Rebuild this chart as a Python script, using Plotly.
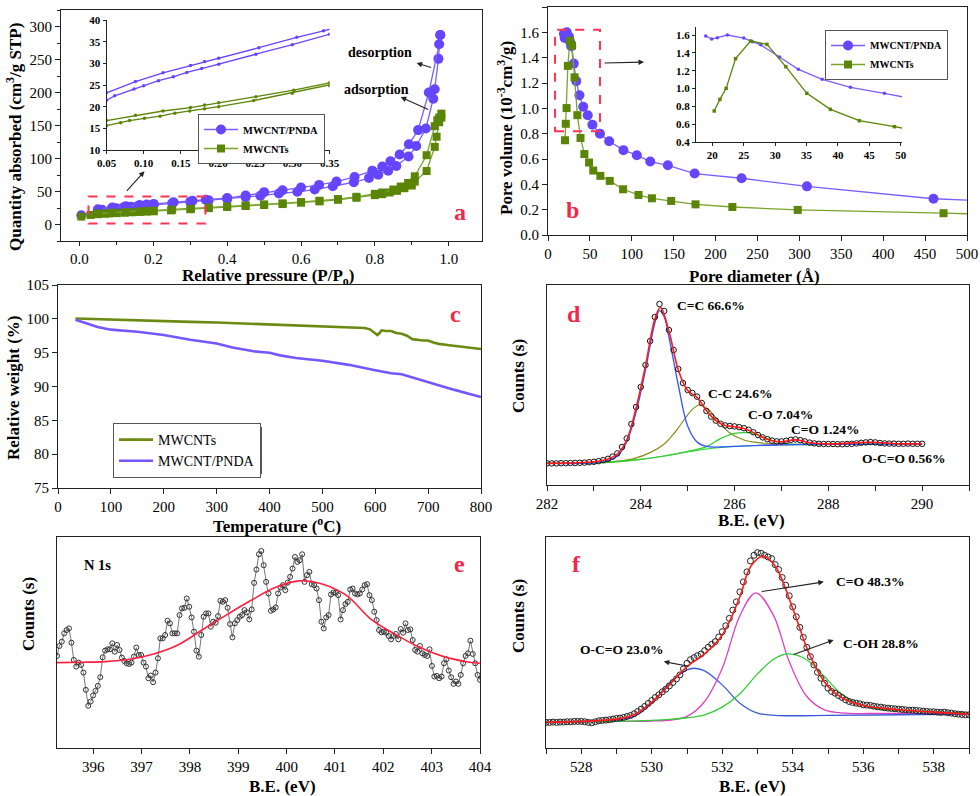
import numpy as np
import plotly.graph_objects as go

W, H = 980, 796
SERIF = "Liberation Serif"
PURPLE = "#6446ff"
PURPLE_L = "#7a5fff"
GREEN = "#5a8507"
GREEN_L = "#7aa52a"
RED = "#f2284a"
BLK = "#222222"

# ---------------- (a) N2 isotherms ----------------
pnda_ads_x = [0.005, 0.05, 0.061, 0.087, 0.1, 0.12, 0.14, 0.158, 0.178, 0.201, 0.251, 0.3, 0.35, 0.4, 0.45,
              0.49, 0.54, 0.59, 0.637, 0.686, 0.743, 0.784, 0.809, 0.836, 0.858, 0.891, 0.912, 0.938, 0.958,
              0.962, 0.972, 0.977]
pnda_ads_y = [14, 21.5, 22.5, 24.1, 24.8, 26, 26.9, 27.9, 28.8, 29.8, 32.1, 34.3, 36.7, 38.8, 41.5,
              43.5, 47, 49.5, 53, 58, 64, 70.4, 75.5, 81.6, 88.7, 103, 119, 145.5, 190.6,
              205, 251, 287]
pnda_des_x = [0.977, 0.974, 0.946, 0.917, 0.892, 0.867, 0.842, 0.82, 0.793, 0.745, 0.696, 0.649, 0.6, 0.55,
              0.5, 0.45, 0.4, 0.342, 0.306, 0.255, 0.201, 0.182, 0.163, 0.126, 0.089, 0.05]
pnda_des_y = [287, 273, 200, 143, 121.6, 106, 95.8, 88, 81.6, 72, 65, 60, 56, 52,
              49, 44, 40, 37.5, 36, 33.6, 31.2, 30.4, 29.5, 27.8, 25.8, 23.2]
cnt_ads_x = [0.005, 0.03, 0.05, 0.069, 0.081, 0.101, 0.122, 0.142, 0.162, 0.182, 0.201, 0.248, 0.3, 0.35,
             0.4, 0.45, 0.5, 0.55, 0.6, 0.65, 0.7, 0.75, 0.8, 0.82, 0.84, 0.86, 0.88, 0.9, 0.908, 0.94,
             0.962, 0.967, 0.974, 0.98]
cnt_ads_y = [12, 14.5, 15.6, 16.3, 16.8, 17.3, 17.8, 18.5, 19.0, 19.5, 20.0, 21.4, 23.1, 24.8,
             26.5, 28, 29.5, 31, 33, 35, 37.5, 40.5, 44.5, 46, 48.5, 51, 55, 59, 65, 81,
             117.6, 133, 155, 162]
cnt_des_x = [0.98, 0.974, 0.969, 0.962, 0.94, 0.908, 0.89, 0.87, 0.85, 0.82, 0.8, 0.75, 0.7, 0.65, 0.6,
             0.55, 0.5, 0.45, 0.4, 0.35, 0.302, 0.251, 0.201, 0.182, 0.163, 0.126, 0.089, 0.05]
cnt_des_y = [168, 162, 158, 149, 105, 73, 63, 57.5, 53, 48.5, 46.5, 42, 38.5, 36, 34,
             32, 30.5, 29, 27.5, 25.5, 23.8, 22.3, 20.9, 20.4, 19.8, 19.0, 18.0, 16.8]

# ---------------- (b) pore size distribution ----------------
pnda_d = [18.95, 19.9, 20.8, 22.4, 25.0, 26.4, 27.7, 30.7, 33.7, 37.5, 42.0, 47.4, 53, 62, 73, 90, 106,
          122, 143, 175, 231, 309, 460, 520]
pnda_v = [1.589, 1.555, 1.57, 1.60, 1.566, 1.525, 1.49, 1.353, 1.215, 1.103, 1.013, 0.946, 0.87, 0.80,
          0.74, 0.67, 0.63, 0.58, 0.55, 0.485, 0.448, 0.384, 0.286, 0.27]
cnt_d = [20.3, 21.2, 22.2, 23.7, 26.1, 28.7, 31.7, 35.05, 38.8, 43.4, 49.0, 54, 62.5, 73.7, 89.6, 108,
         124, 147, 176, 220, 298, 472, 520]
cnt_v = [0.748, 0.878, 1.002, 1.335, 1.533, 1.495, 1.245, 0.946, 0.766, 0.639, 0.572, 0.509, 0.467,
         0.427, 0.361, 0.316, 0.29, 0.269, 0.242, 0.221, 0.198, 0.172, 0.165]

# ---------------- (c) TGA ----------------
tga_cnt_t = [33, 60, 100, 150, 200, 250, 300, 350, 400, 450, 500, 530, 550, 580, 590, 598, 604, 608, 612,
             620, 630, 640, 650, 660, 670, 690, 700, 710, 720, 740, 760, 780, 800]
tga_cnt_w = [100.05, 100.0, 99.85, 99.75, 99.65, 99.55, 99.45, 99.3, 99.2, 99.05, 98.9, 98.75, 98.75,
             98.65, 98.45, 98.0, 97.6, 97.9, 98.3, 98.2, 98.2, 97.9, 97.8, 97.5, 97.0, 96.8, 96.8, 96.5,
             96.3, 96.1, 95.95, 95.8, 95.55]
tga_pnda_t = [33, 50, 75, 100, 150, 200, 230, 250, 300, 330, 370, 400, 420, 450, 500, 550, 600, 630, 650,
              680, 700, 750, 800]
tga_pnda_w = [99.85, 99.4, 98.8, 98.4, 98.1, 97.6, 97.15, 96.9, 96.35, 95.75, 95.2, 95.0, 94.6, 94.2,
              93.8, 93.2, 92.4, 91.95, 91.8, 91.1, 90.6, 89.5, 88.45]

# ---------------- (d) C 1s ----------------
c1s_start, c1s_step = 282.0, 0.1
c1s_counts = [10.8, 10.8, 10.8, 10.9, 10.9, 11.0, 11.0, 11.1, 11.2, 11.4,
              11.6, 11.9, 12.4, 13.1, 14.2, 15.8, 19.0, 23.3, 30.5, 39.0,
              49.0, 60.0, 72.0, 84.0, 90.5, 87.0, 77.5, 67.5, 58.0, 51.0,
              47.5, 46.0, 44.2, 41.0, 37.0, 34.2, 32.2, 30.6, 29.8, 29.5,
              29.3, 28.9, 28.4, 27.6, 26.4, 25.0, 23.8, 22.9, 22.2, 21.8,
              21.8, 22.1, 22.6, 22.8, 22.4, 21.8, 21.2, 20.8, 20.6, 20.5,
              20.5, 20.5, 20.4, 20.4, 20.5, 20.6, 20.8, 21.1, 21.3, 21.5,
              21.3, 21.0, 20.8, 20.7, 20.7, 20.6, 20.6, 20.7, 20.6, 20.6, 20.6]
c1s_fit_x = [282, 283, 283.3, 283.5, 283.7, 283.9, 284.1, 284.3, 284.42, 284.6, 284.8, 285.0, 285.2, 285.4,
             285.6, 285.8, 286.0, 286.2, 286.4, 286.6, 286.8, 287.0, 287.3, 287.6, 288, 288.9, 289.5, 290]
c1s_fit_y = [10.8, 11.6, 13.0, 15.5, 22.5, 38.5, 59.5, 83, 88.8, 77, 57.5, 47.2, 43.8, 37.2,
             32.2, 29.8, 29.1, 28.2, 26.3, 23.7, 22.1, 21.6, 22.6, 21.1, 20.5, 21.4, 20.6, 20.6]
c1s_bg_x = [282, 283, 283.5, 284, 284.5, 285, 285.5, 286, 286.5, 287, 288, 290]
c1s_bg_y = [10.8, 11.0, 11.6, 12.8, 14.5, 16.5, 18.3, 19.3, 19.8, 20.1, 20.3, 20.5]
c1s_cc2_x = [282, 283, 283.3, 283.5, 283.7, 283.9, 284.1, 284.3, 284.4, 284.5, 284.6, 284.8, 285.0, 285.2,
             285.4, 285.7, 286, 287, 288, 290]
c1s_cc2_y = [10.8, 11.1, 12.2, 14.5, 21.5, 36.5, 57.5, 81, 87.2, 84, 74, 50, 29.5, 21.5,
             19.3, 19.0, 19.3, 20.1, 20.3, 20.5]
c1s_cc_x = [282, 283, 283.5, 283.85, 284.2, 284.5, 284.75, 284.95, 285.1, 285.25, 285.45, 285.65, 285.9,
            286.2, 286.5, 286.9, 288, 290]
c1s_cc_y = [10.8, 11.1, 11.9, 13.2, 16.2, 20.5, 27, 33.5, 37.8, 40, 37.5, 32.2, 26, 22.5, 21.2, 20.6,
            20.3, 20.5]
c1s_co_x = [282, 283, 284, 284.5, 285, 285.4, 285.7, 286.0, 286.2, 286.45, 286.7, 287.0, 287.5, 288, 290]
c1s_co_y = [10.8, 11.0, 12.8, 14.5, 16.8, 19.2, 23.2, 25.8, 26.2, 25.6, 23.2, 21.0, 20.2, 20.3, 20.5]
c1s_c_o_x = [286.6, 286.9, 287.1, 287.3, 287.5, 287.7, 288.0]
c1s_c_o_y = [19.9, 20.2, 21.6, 22.6, 21.8, 20.5, 20.3]
c1s_occ_x = [288.3, 288.6, 288.9, 289.2, 289.5, 290]
c1s_occ_y = [20.4, 20.8, 21.5, 20.9, 20.5, 20.5]

# ---------------- (e) N 1s ----------------
n1s_start, n1s_end = 395.25, 404.0
n1s_counts = [277, 307, 320, 345, 355, 360, 317, 265, 245, 257, 250, 227, 175, 127, 140, 158, 172, 187, 213, 273,
              293, 297, 297, 315, 290, 310, 295, 272, 262, 255, 253, 257, 275, 302, 280, 280, 257, 245, 210, 218,
              198, 227, 270, 330, 330, 340, 383, 375, 345, 345, 345, 400, 420, 422, 450, 425, 393, 350, 293, 275,
              340, 395, 405, 405, 365, 380, 377, 397, 443, 440, 445, 422, 373, 333, 375, 385, 395, 400, 415, 408,
              387, 417, 497, 537, 583, 593, 550, 500, 465, 413, 417, 423, 465, 483, 490, 475, 498, 515, 540, 575,
              560, 565, 583, 500, 520, 530, 493, 490, 480, 445, 380, 360, 393, 400, 462, 468, 467, 460, 387, 415,
              433, 440, 477, 480, 465, 462, 465, 477, 490, 493, 460, 445, 410, 385, 355, 348, 350, 347, 337, 327,
              337, 343, 327, 358, 347, 375, 355, 357, 325, 295, 290, 307, 285, 280, 277, 297, 247, 215, 217, 210,
              215, 255, 267, 233, 213, 193, 200, 193, 220, 255, 277, 285, 323, 283, 255, 220, 205]
n1s_fit_x = [395.25, 395.75, 396.25, 396.75, 397.25, 397.75, 398.25, 398.75, 399.25, 399.75, 400.25, 400.75,
             401.25, 401.75, 402.25, 402.75, 403.25, 403.75, 404.0]
n1s_fit_y = [257, 258, 260, 267, 283, 310, 355, 400, 443, 482, 503, 493, 458, 387, 342, 303, 275, 259, 255]

# ---------------- (f) O 1s ----------------
o1s_start, o1s_step = 527.0, 0.1
o1s_counts = [77, 77, 78, 77, 78, 78, 79, 79, 80, 80,
              80, 79, 77, 76, 79, 82, 83, 84, 85, 87,
              89, 90, 92, 95, 98, 103, 110, 117, 125, 134,
              143, 152, 160, 169, 177, 187, 197, 208, 220, 238,
              255, 266, 272, 278, 283, 293, 303, 312, 320, 334,
              350, 368, 390, 415, 440, 470, 500, 530, 563, 580,
              588, 586, 580, 575, 570, 552, 537, 513, 490, 458,
              425, 395, 363, 333, 303, 275, 250, 228, 210, 195,
              180, 170, 165, 158, 152, 145, 140, 137, 135, 133,
              130, 129, 128, 126, 124, 123, 121, 120, 119, 118,
              117, 116, 115, 114, 114, 113, 112, 111, 110, 109,
              109, 108, 107, 108, 106, 105, 103, 102, 101, 100, 100]
o1s_fit_x = [527, 528, 529, 529.5, 530, 530.5, 531, 531.5, 532, 532.5, 532.8, 533.15, 533.5, 534, 534.5, 535,
             535.5, 536, 537, 538, 539]
o1s_fit_y = [77, 80, 87, 100, 138, 190, 245, 283, 340, 455, 545, 577, 548, 420, 275, 185, 145, 128, 115, 108, 102]
o1s_occ_x = [527, 528, 529, 529.5, 530, 530.5, 531, 531.2, 531.5, 532, 532.5, 533, 533.5, 534, 535, 537, 539]
o1s_occ_y = [77, 80, 84, 95, 135, 195, 235, 240, 232, 190, 135, 105, 98, 97, 98, 100, 102]
o1s_co_x = [527, 529, 530, 530.6, 531, 531.5, 532, 532.5, 532.95, 533.45, 533.9, 534.4, 534.9, 535.5, 536.5, 539]
o1s_co_y = [77, 80, 81, 85, 95, 140, 240, 398, 467, 400, 260, 155, 115, 105, 104, 104]
o1s_coh_x = [527, 528, 529, 530, 530.5, 531, 531.5, 532, 532.5, 533, 533.5, 533.9, 534.4, 534.9, 535.35,
             535.8, 536.3, 536.8, 537.7, 539]
o1s_coh_y = [77, 79, 80, 83, 86, 91, 100, 123, 163, 223, 270, 283, 265, 215, 165, 135, 120, 114, 110, 105]

c1s_x = [round(c1s_start + i * c1s_step, 2) for i in range(len(c1s_counts))]
o1s_x = [round(o1s_start + i * o1s_step, 2) for i in range(len(o1s_counts))]
n1s_x = list(np.linspace(n1s_start, n1s_end, len(n1s_counts)))


def dx(l, r):
    return [l / W, r / W]


def dy(t, b):
    return [1 - b / H, 1 - t / H]


fig = go.Figure()


def sc(x, y, ax, **kw):
    kw.setdefault("showlegend", False)
    fig.add_trace(go.Scatter(x=x, y=y, xaxis="x" + ax, yaxis="y" + ax, **kw))


# (a) main
sc(pnda_ads_x, pnda_ads_y, "", mode="lines+markers", name="MWCNT/PNDA", showlegend=True, legend="legend",
   line=dict(color=PURPLE_L, width=1.3), marker=dict(symbol="circle", size=10, color=PURPLE))
sc(pnda_des_x, pnda_des_y, "", mode="lines+markers", line=dict(color=PURPLE_L, width=1.3),
   marker=dict(symbol="circle", size=10, color=PURPLE))
sc(cnt_ads_x, cnt_ads_y, "", mode="lines+markers", name="MWCNTs", showlegend=True, legend="legend",
   line=dict(color=GREEN_L, width=1.3), marker=dict(symbol="square", size=8, color=GREEN))
sc(cnt_des_x, cnt_des_y, "", mode="lines+markers", line=dict(color=GREEN_L, width=1.3),
   marker=dict(symbol="square", size=8, color=GREEN))
# (a) inset
for xs, ys, c in [(pnda_ads_x, pnda_ads_y, PURPLE), (pnda_des_x, pnda_des_y, PURPLE),
                  (cnt_ads_x, cnt_ads_y, GREEN), (cnt_des_x, cnt_des_y, GREEN)]:
    sc(xs, ys, "2", mode="lines+markers", line=dict(color=c, width=1.3), marker=dict(size=3.5, color=c))

# (b)
sc(pnda_d, pnda_v, "3", mode="lines+markers", name="MWCNT/PNDA", showlegend=True, legend="legend2",
   line=dict(color=PURPLE_L, width=1.3), marker=dict(symbol="circle", size=10, color=PURPLE))
sc(cnt_d, cnt_v, "3", mode="lines+markers", name="MWCNTs", showlegend=True, legend="legend2",
   line=dict(color=GREEN_L, width=1.3), marker=dict(symbol="square", size=8, color=GREEN))
sc(pnda_d, pnda_v, "4", mode="lines+markers", line=dict(color=PURPLE_L, width=1.3),
   marker=dict(size=3.5, color=PURPLE))
sc(cnt_d, cnt_v, "4", mode="lines+markers", line=dict(color=GREEN, width=1.3),
   marker=dict(symbol="square", size=3.5, color=GREEN))

# (c)
sc(tga_cnt_t, tga_cnt_w, "5", mode="lines", name="MWCNTs", showlegend=True, legend="legend3",
   line=dict(color="#6b8a12", width=2.6))
sc(tga_pnda_t, tga_pnda_w, "5", mode="lines", name="MWCNT/PNDA", showlegend=True, legend="legend3",
   line=dict(color="#7357ff", width=2.6))

# (d)
sc(c1s_bg_x, c1s_bg_y, "6", mode="lines", line=dict(color="#44dd44", width=1.2, shape="spline"))
sc(c1s_cc_x, c1s_cc_y, "6", mode="lines", line=dict(color="#8a8a1a", width=1.2, shape="spline"))
sc(c1s_co_x, c1s_co_y, "6", mode="lines", line=dict(color="#33cc33", width=1.2, shape="spline"))
sc(c1s_c_o_x, c1s_c_o_y, "6", mode="lines", line=dict(color="#b03cc8", width=1.2, shape="spline"))
sc(c1s_occ_x, c1s_occ_y, "6", mode="lines", line=dict(color="#ff77bb", width=1.2, shape="spline"))
sc(c1s_cc2_x, c1s_cc2_y, "6", mode="lines", line=dict(color="#2f55ff", width=1.3, shape="spline"))
sc(c1s_x, c1s_counts, "6", mode="markers",
   marker=dict(symbol="circle-open", size=5.5, color="#111", line=dict(width=1)))
sc(c1s_fit_x, c1s_fit_y, "6", mode="lines", line=dict(color="#ff1a1a", width=1.6, shape="spline"))

# (e)
sc(n1s_x, n1s_counts, "7", mode="lines+markers", line=dict(color="#777", width=1),
   marker=dict(symbol="circle-open", size=5, color="#333", line=dict(width=1)))
sc(n1s_fit_x, n1s_fit_y, "7", mode="lines", line=dict(color="#ff2040", width=1.6, shape="spline"))

# (f)
sc(o1s_occ_x, o1s_occ_y, "8", mode="lines", line=dict(color="#3a5bd9", width=1.3, shape="spline"))
sc(o1s_co_x, o1s_co_y, "8", mode="lines", line=dict(color="#e040c0", width=1.3, shape="spline"))
sc(o1s_coh_x, o1s_coh_y, "8", mode="lines", line=dict(color="#33cc33", width=1.3, shape="spline"))
sc(o1s_x, o1s_counts, "8", mode="markers",
   marker=dict(symbol="circle-open", size=6, color="#222", line=dict(width=1)))
sc(o1s_fit_x, o1s_fit_y, "8", mode="lines", line=dict(color="#ff1a1a", width=1.6, shape="spline"))

# ---------------- axes ----------------
TF = dict(family=SERIF, size=15, color="black")
TFB = dict(family=SERIF, size=11, color="black", weight="bold")


def ax(domain, rng, anchor, mirror=True, font=TF, ticklen=5, **kw):
    d = dict(domain=domain, range=rng, anchor=anchor, showline=True, linecolor=BLK, linewidth=1,
             mirror=mirror, ticks="outside", tickcolor=BLK, ticklen=ticklen, tickwidth=1,
             showgrid=False, zeroline=False, tickfont=font, automargin=False)
    d.update(kw)
    return d


noy = dict(showticklabels=False, ticks="")
layout = dict(
    xaxis=ax(dx(61, 482), [-0.05, 1.09], "y", dtick=0.2, tick0=0, tickformat=".1f", ticklen=4,
             minor=dict(dtick=0.1, ticks="outside", ticklen=3, tickcolor=BLK)),
    yaxis=ax(dy(10, 241), [-25, 325], "x", dtick=50, tick0=0,
             minor=dict(dtick=25, ticks="outside", ticklen=3, tickcolor=BLK)),
    xaxis2=ax(dx(106.5, 329.5), [0.05, 0.35], "y2", mirror=False, font=TFB, ticklen=3,
              dtick=0.05, tick0=0.05, tickformat=".2f"),
    yaxis2=ax(dy(20, 150), [10, 40], "x2", mirror=False, font=TFB, ticklen=3, dtick=5, tick0=10),
    xaxis3=ax(dx(548, 967), [0, 500], "y3", dtick=50),
    yaxis3=ax(dy(7, 235), [0, 1.8], "x3", dtick=0.2, tick0=0, tickformat=".1f"),
    xaxis4=ax(dx(696, 902), [17.4, 50.2], "y4", mirror=False, font=TFB, ticklen=3, dtick=5, tick0=20),
    yaxis4=ax(dy(27, 142), [0.4, 1.69], "x4", mirror=False, font=TFB, ticklen=3, dtick=0.2, tick0=0.4,
              tickformat=".1f"),
    xaxis5=ax(dx(58, 481), [0, 800], "y5", dtick=100),
    yaxis5=ax(dy(285, 488), [75, 105], "x5", dtick=5),
    xaxis6=ax(dx(547, 969), [282, 291], "y6", dtick=2, tick0=282,
              minor=dict(dtick=1, ticks="outside", ticklen=5, tickcolor=BLK)),
    yaxis6=ax(dy(285, 485), [0, 100], "x6", **noy),
    xaxis7=ax(dx(57, 480), [395.25, 404], "y7", dtick=1, tick0=396),
    yaxis7=ax(dy(537, 748), [0, 635], "x7", **noy),
    xaxis8=ax(dx(546, 969), [527, 539], "y8", dtick=2, tick0=528,
              minor=dict(dtick=1, ticks="outside", ticklen=5, tickcolor=BLK)),
    yaxis8=ax(dy(537, 748), [0, 635], "x8", **noy),
)

# ---------------- legends ----------------
layout["legend"] = dict(x=198 / W, y=1 - 114 / H, xanchor="left", yanchor="top", bgcolor="white",
                        bordercolor="#555", borderwidth=1, itemwidth=34, tracegroupgap=0,
                        font=dict(family=SERIF, size=10.5, color="black", weight="bold"))
layout["legend2"] = dict(x=825 / W, y=1 - 30 / H, xanchor="left", yanchor="top", bgcolor="white",
                         bordercolor="#555", borderwidth=1, itemwidth=34, tracegroupgap=0,
                         font=dict(family=SERIF, size=10, color="black", weight="bold"))
layout["legend3"] = dict(x=113 / W, y=1 - 423 / H, xanchor="left", yanchor="top", bgcolor="white",
                         bordercolor="#555", borderwidth=1, itemwidth=34, tracegroupgap=0,
                         font=dict(family=SERIF, size=14, color="black"))

# ---------------- shapes ----------------
shapes = [
    dict(type="rect", xref="x", yref="y", x0=0.0244, x1=0.341, y0=1.5, y1=42.6,
         line=dict(color="#ff3355", width=2, dash="dash")),
    dict(type="rect", xref="x3", yref="y3", x0=8.4, x1=62, y0=0.82, y1=1.62,
         line=dict(color="#ff3355", width=2, dash="dash")),
    dict(type="rect", xref="paper", yref="paper", x0=117 / W, x1=262 / W, y0=1 - 474 / H, y1=1 - 427 / H,
         fillcolor="#555", line=dict(width=0), layer="below"),
]

# ---------------- annotations ----------------
ann = []


def txt(x, y, s, size=17, bold=True, color="black", angle=0, xref="paper", yref="paper", **kw):
    if xref == "paper":
        x = x / W
    if yref == "paper":
        y = 1 - y / H
    ann.append(dict(x=x, y=y, xref=xref, yref=yref, text=s, showarrow=False, textangle=angle,
                    xanchor="center", yanchor="middle",
                    font=dict(family=SERIF, size=size, color=color, weight="bold" if bold else "normal"),
                    **kw))


def arrow(x, y, axv, ayv, xref, yref, axref="pixel", ayref="pixel"):
    ann.append(dict(x=x, y=y, ax=axv, ay=ayv, xref=xref, yref=yref, axref=axref, ayref=ayref, text="",
                    showarrow=True, arrowhead=2, arrowsize=1, arrowwidth=1.1, arrowcolor="#222"))


# axis titles
txt(14, 137, "Quantity absorbed (cm<sup>3</sup>/g STP)", angle=-90)
txt(268, 277, "Relative pressure (P/P<sub>o</sub>)")
txt(505, 128, "Pore volume (10<sup>-3</sup>cm<sup>3</sup>/g)", angle=-90)
txt(754, 276, "Pore diameter (Å)")
txt(13, 388, "Relative weight (%)", angle=-90)
txt(277, 525, "Temperature (<sup>o</sup>C)")
txt(518, 376, "Counts (s)", angle=-90)
txt(751, 520, "B.E. (eV)")
txt(28, 614, "Counts (s)", angle=-90)
txt(282, 786, "B.E. (eV)")
txt(518, 616, "Counts (s)", angle=-90)
txt(752, 786, "B.E. (eV)")

# panel labels
for lab, (lx, ly) in {"a": (460, 212), "b": (572, 210), "c": (455, 314), "d": (574, 314),
                      "e": (459, 564), "f": (576, 564)}.items():
    txt(lx, ly, lab, size=24, color=RED)

# (a) texts / arrows
txt(0.813, 260, "desorption", size=14, xref="x", yref="y")
txt(0.805, 205, "adsorption", size=14, xref="x", yref="y")
arrow(0.913, 244.7, 16, 5, "x", "y")
arrow(0.87, 193, 29, 13, "x", "y")
arrow(0.176, 80.5, -19, 21, "x", "y")
# (b) arrow
arrow(114.6, 1.365, -41, 1, "x3", "y3")

# (d) labels
txt(285.5, 90, "C=C 66.6%", size=13.5, xref="x6", yref="y6")
txt(286.13, 45.8, "C-C 24.6%", size=13.5, xref="x6", yref="y6")
txt(286.98, 35.5, "C-O 7.04%", size=13.5, xref="x6", yref="y6")
txt(287.92, 28, "C=O 1.24%", size=13.5, xref="x6", yref="y6")
txt(289.6, 13.3, "O-C=O 0.56%", size=13.5, xref="x6", yref="y6")

# (e) label
txt(396.08, 550, "N 1s", size=14.5, xref="x7", yref="y7")

# (f) labels / arrows
txt(536.2, 500, "C=O 48.3%", size=13.5, xref="x8", yref="y8")
txt(536.49, 315, "C-OH 28.8%", size=13.5, xref="x8", yref="y8")
txt(529.15, 297, "O-C=O 23.0%", size=13.5, xref="x8", yref="y8")
arrow(534.88, 500, 533.08, 470, "x8", "y8", "x8", "y8")
arrow(535.16, 325, 533.98, 280, "x8", "y8", "x8", "y8")
arrow(530.34, 260, 531.09, 245, "x8", "y8", "x8", "y8")

layout.update(dict(template="none", width=W, height=H, margin=dict(l=0, r=0, t=0, b=0, pad=0),
                   paper_bgcolor="white", plot_bgcolor="white", shapes=shapes, annotations=ann,
                   font=dict(family=SERIF, color="black")))
fig.update_layout(**layout)
fig.write_html("out.html", config={"displayModeBar": False},
               post_script="document.body.style.margin='0';document.body.style.overflow='hidden';")
